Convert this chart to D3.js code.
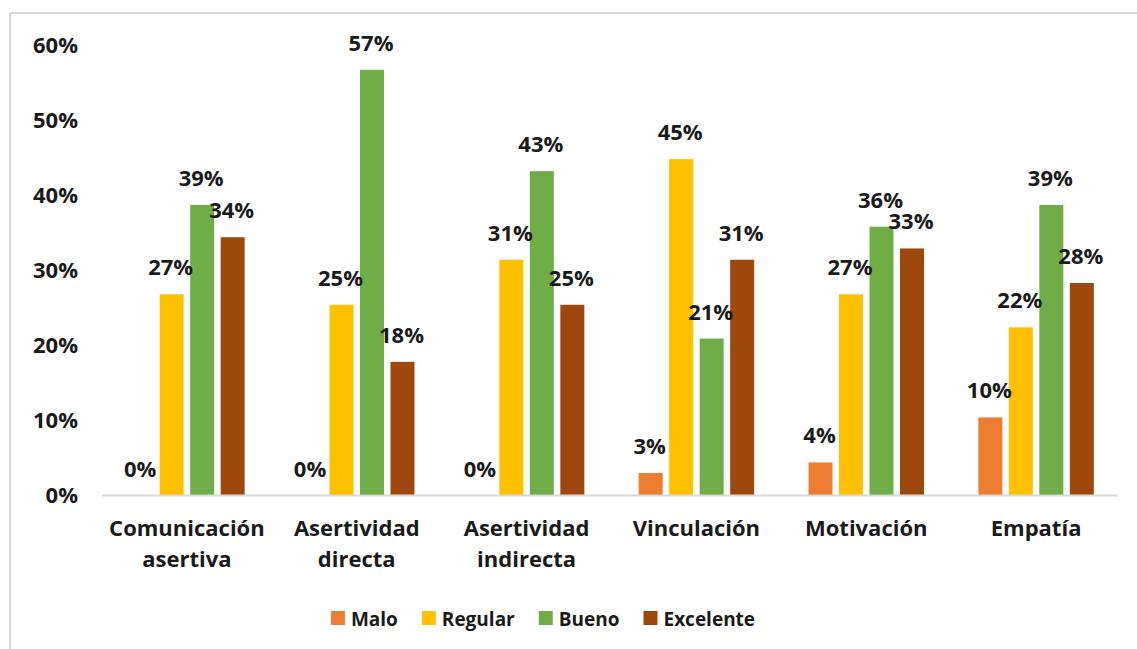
<!DOCTYPE html>
<html>
<head>
<meta charset="utf-8">
<script src="https://cdn.jsdelivr.net/npm/d3@7"></script>
<style>
  body { margin: 0; background: #fff; }
  svg { display: block; }
</style>
</head>
<body>
<script>
// ---- data ----
var categories = [
  ["Comunicación", "asertiva"],
  ["Asertividad", "directa"],
  ["Asertividad", "indirecta"],
  ["Vinculación"],
  ["Motivación"],
  ["Empatía"]
];
var series = ["Malo", "Regular", "Bueno", "Excelente"];
var colors = ["#ED7D31", "#FFC000", "#70AD47", "#9E480E"];
// values per series, in category order (fractions)
var malo      = [0.000, 0.000, 0.000, 0.030, 0.044, 0.104];
var regular   = [0.268, 0.254, 0.314, 0.448, 0.268, 0.224];
var bueno     = [0.387, 0.567, 0.432, 0.209, 0.358, 0.387];
var excelente = [0.344, 0.178, 0.254, 0.314, 0.329, 0.283];
var yTicks = [0, 0.1, 0.2, 0.3, 0.4, 0.5, 0.6];

var values = [malo, regular, bueno, excelente];

// ---- layout ----
var W = 1137, H = 649;
var plot = { left: 102, right: 1121, top: 45, bottom: 495.5 };
var fontMain = "'Open Sans', sans-serif";
var pct = d3.format(".0%");

var svg = d3.select("body").append("svg")
  .attr("width", W).attr("height", H);

// frame (only top + left edges visible)
svg.append("line").attr("x1", 10).attr("x2", W).attr("y1", 13).attr("y2", 13)
  .attr("stroke", "#d9d9d9").attr("stroke-width", 2);
svg.append("line").attr("x1", 10).attr("x2", 10).attr("y1", 13).attr("y2", H)
  .attr("stroke", "#d9d9d9").attr("stroke-width", 2);

var catKeys = categories.map(function(c){ return c.join(" "); });

var x0 = d3.scaleBand().domain(catKeys).range([plot.left, plot.right]).padding(0);
var groupW = 115.5;
var x1 = d3.scaleBand().domain(series).range([0, groupW]).paddingInner(0.213).paddingOuter(0);
var y = d3.scaleLinear().domain([0, 0.6]).range([plot.bottom, plot.top]);

// y axis labels (no line)
var yAxis = d3.axisLeft(y).tickValues(yTicks).tickFormat(pct).tickSize(0).tickPadding(0);
var gy = svg.append("g").attr("transform", "translate(78,0)").call(yAxis);
gy.select(".domain").remove();
gy.selectAll("text")
  .attr("font-family", fontMain).attr("font-weight", "bold")
  .attr("font-size", "22px").attr("fill", "#1a1a1a");

// bars
var groups = svg.selectAll("g.cat")
  .data(catKeys)
  .enter().append("g")
  .attr("class", "cat")
  .attr("transform", function(d){ return "translate(" + (x0(d) + (x0.bandwidth() - groupW) / 2) + ",0)"; });

function rows(d, i) {
  return series.map(function(s, j){ return { s: s, j: j, v: values[j][i] }; });
}

groups.selectAll("rect")
  .data(rows)
  .enter().append("rect")
  .attr("x", function(d){ return x1(d.s); })
  .attr("width", x1.bandwidth())
  .attr("y", function(d){ return y(d.v); })
  .attr("height", function(d){ return y(0) - y(d.v); })
  .attr("fill", function(d){ return colors[d.j]; });

groups.selectAll("text")
  .data(rows)
  .enter().append("text")
  .attr("x", function(d){ return x1(d.s) + x1.bandwidth() / 2 - 1; })
  .attr("y", function(d){ return y(d.v) - 19; })
  .attr("text-anchor", "middle")
  .attr("font-family", fontMain).attr("font-weight", "bold")
  .attr("font-size", "22px").attr("fill", "#1a1a1a")
  .text(function(d){ return pct(d.v); });

// x axis line
svg.append("line")
  .attr("x1", plot.left).attr("x2", 1118)
  .attr("y1", plot.bottom).attr("y2", plot.bottom)
  .attr("stroke", "#d9d9d9").attr("stroke-width", 2);

// category labels
var catLabels = svg.selectAll("text.cat")
  .data(categories)
  .enter().append("text")
  .attr("class", "cat")
  .attr("text-anchor", "middle")
  .attr("font-family", fontMain).attr("font-weight", "bold")
  .attr("font-size", "22px").attr("fill", "#1a1a1a");
catLabels.selectAll("tspan")
  .data(function(d, i){ return d.map(function(t){ return { t: t, k: catKeys[i] }; }); })
  .enter().append("tspan")
  .attr("x", function(d){ return x0(d.k) + x0.bandwidth() / 2; })
  .attr("y", function(d, i){ return 536 + i * 31; })
  .text(function(d){ return d.t; });

// legend
var legend = svg.append("g");
var lx = 0;
series.forEach(function(s, j){
  var item = legend.append("g").attr("transform", "translate(" + lx + ",0)");
  item.append("rect").attr("x", 0).attr("y", -8).attr("width", 14).attr("height", 14)
    .attr("fill", colors[j]);
  var t = item.append("text").attr("x", 20).attr("y", 7)
    .attr("font-family", fontMain).attr("font-weight", "bold")
    .attr("font-size", "19px").attr("fill", "#1a1a1a")
    .text(s);
  lx += 20 + t.node().getComputedTextLength() + 24;
});
var legendW = lx - 24;
legend.attr("transform", "translate(" + (543 - legendW / 2) + ",619)");
</script>
</body>
</html>
